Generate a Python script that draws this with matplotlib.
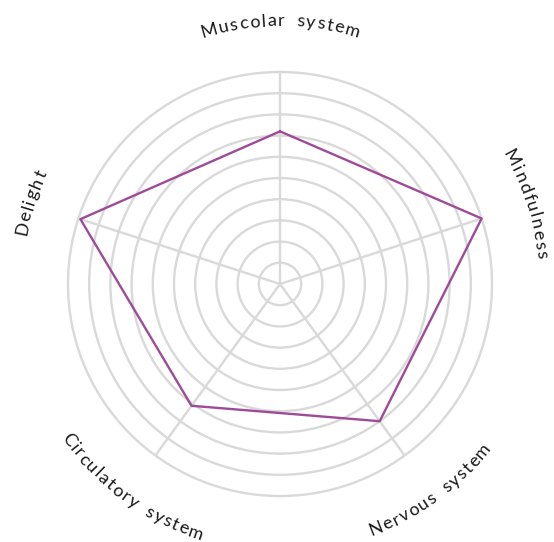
import numpy as np
import matplotlib
matplotlib.use("Agg")
import matplotlib.pyplot as plt
from matplotlib.font_manager import FontProperties, findfont, get_font

# axes, clockwise from the top
labels = ["Muscolar system", "Mindfulness", "Nervous system", "Circulatory system", "Delight"]
values = [72, 100, 80, 71, 99]
rings = [10, 20, 30, 40, 50, 60, 70, 80, 90, 100]

line_color = "#9e4a98"
grid_color = "#d9d9d9"

fig = plt.figure(figsize=(5.54, 5.42), dpi=100)
ax = fig.add_axes([68 / 554, 46 / 542, 424 / 554, 424 / 542], projection="polar")
ax.set_theta_zero_location("N")
ax.set_theta_direction(-1)

n = len(labels)
angles = np.arange(n) * 2 * np.pi / n

ax.set_ylim(0, 100)
ax.set_yticks(rings)
ax.set_yticklabels([])
ax.set_xticks(angles)
ax.set_xticklabels([])
ax.grid(True, color=grid_color, linewidth=1.7)
for gl in ax.yaxis.get_gridlines():
    gl.set_clip_on(False)
ax.spines["polar"].set_visible(False)
ax.tick_params(length=0)

# closed polygon
theta = np.append(angles, angles[0])
r = np.append(values, values[0])
ax.plot(theta, r, color=line_color, linewidth=1.7, solid_joinstyle="round",
        zorder=5, clip_on=False)

# curved labels, one character at a time
fsize = 13
fp = FontProperties(family="Lato", size=fsize)
font = get_font(findfont(fp))
font.set_size(fsize, 100)
dpx = 100 / 212.0  # data units per pixel


def advance(ch):
    return font.load_char(ord(ch)).linearHoriAdvance / 65536


track = 1.5
space_extra = 4.0
for lab, ang in zip(labels, angles):
    deg = np.degrees(ang)
    flip = 90 < deg < 270
    rb = 258 if not flip else 268
    adv = [advance(c) + track + (space_extra if c == " " else 0) for c in lab]
    total = sum(adv) - track
    pen = -total / 2
    for ch, a in zip(lab, adv):
        pos = pen + (a - track) / 2
        pen += a
        if ch == " ":
            continue
        dth = pos / rb
        th = ang - dth if flip else ang + dth
        rot = 180 - np.degrees(th) if flip else -np.degrees(th)
        ax.text(th, rb * dpx, ch, fontproperties=fp, color="#1a1a1a",
                rotation=rot, rotation_mode="anchor",
                ha="center", va="baseline")

fig.savefig("out.png", dpi=100)
